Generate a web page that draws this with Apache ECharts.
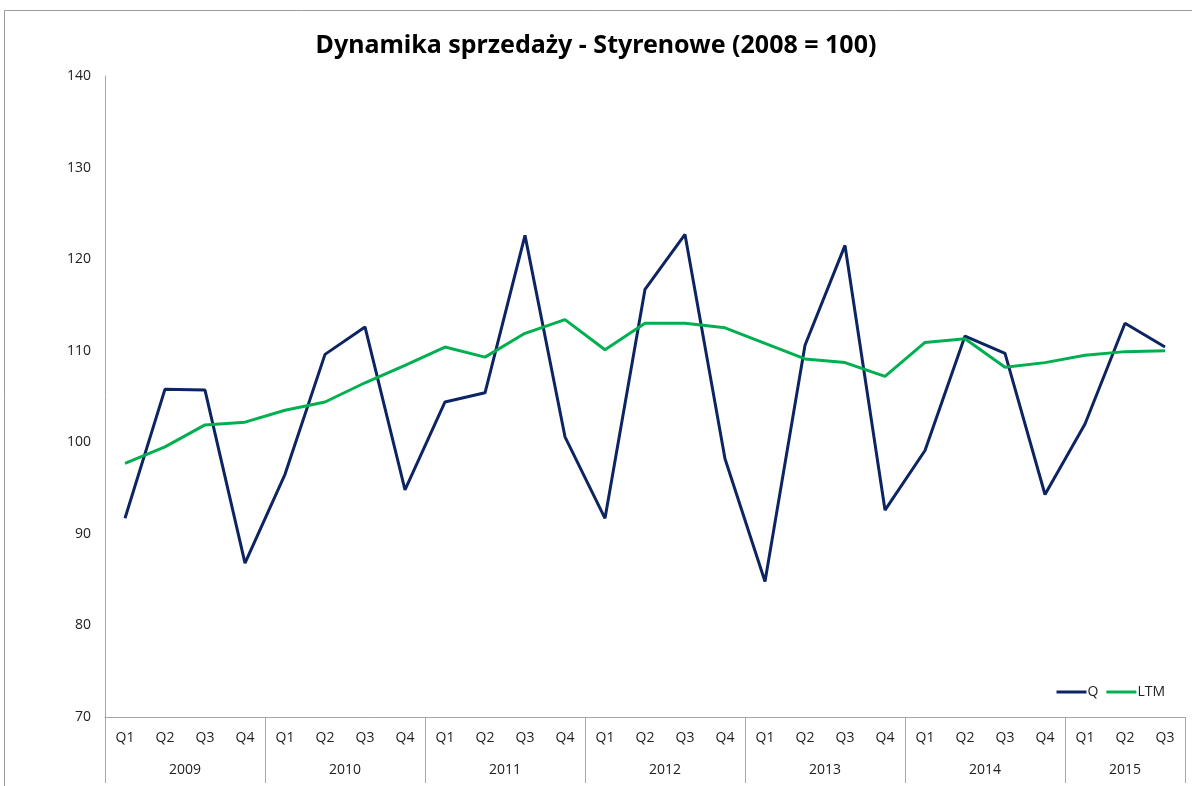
<!DOCTYPE html>
<html>
<head>
<meta charset="utf-8">
<title>Dynamika sprzedaży - Styrenowe</title>
<script src="https://cdn.jsdelivr.net/npm/echarts@6/dist/echarts.min.js"></script>
<style>
  html, body { margin: 0; padding: 0; background: #fff; }
  #chart { width: 1192px; height: 786px; }
</style>
</head>
<body>
<div id="chart"></div>
<script>
// quarters on the lower axis, years on the second row
const quarters = [
  "Q1", "Q2", "Q3", "Q4", "Q1", "Q2", "Q3", "Q4", "Q1", "Q2", "Q3", "Q4",
  "Q1", "Q2", "Q3", "Q4", "Q1", "Q2", "Q3", "Q4", "Q1", "Q2", "Q3", "Q4",
  "Q1", "Q2", "Q3",
];
const years = ["2009", "2010", "2011", "2012", "2013", "2014", "2015"];
const quartersPerYear = [4, 4, 4, 4, 4, 4, 3];

const qValues = [
  91.7, 105.8, 105.7, 86.8,
  96.5, 109.6, 112.6, 94.8,
  104.4, 105.4, 122.6, 100.6,
  91.7, 116.7, 122.7, 98.2,
  84.8, 110.6, 121.5, 92.6,
  99.1, 111.6, 109.7, 94.3,
  102.0, 113.0, 110.4,
];
const ltmValues = [
  97.7, 99.5, 101.9, 102.2,
  103.5, 104.4, 106.5, 108.4,
  110.4, 109.3, 111.9, 113.4,
  110.1, 113.0, 113.0, 112.5,
  110.8, 109.1, 108.7, 107.2,
  110.9, 111.3, 108.2, 108.7,
  109.5, 109.9, 110.0,
];
const yTicks = { min: 70, max: 140, step: 10 };

// year boundaries and centres, in quarter units
const yearEdges = [0];
quartersPerYear.forEach((n) => yearEdges.push(yearEdges[yearEdges.length - 1] + n));
const yearCenters = years.map((_, i) => (yearEdges[i] + yearEdges[i + 1]) / 2);

const font = "'Open Sans', 'Noto Sans', sans-serif";

const chart = echarts.init(document.getElementById("chart"));
chart.setOption({
  animation: false,
  title: {
    text: "Dynamika sprzedaży - Styrenowe (2008 = 100)",
    left: "center",
    top: 28,
    textStyle: {
      fontFamily: "'Noto Sans', sans-serif",
      fontWeight: "bold",
      fontSize: 25,
      color: "#000",
    },
  },
  graphic: [
    {
      type: "rect",
      shape: { x: 4.5, y: 10.5, width: 1400, height: 1000 },
      style: { fill: "none", stroke: "#9a9a9a", lineWidth: 1 },
      silent: true,
    },
  ],
  legend: {
    right: 22,
    top: 680,
    itemWidth: 30,
    itemHeight: 3,
    itemGap: 8,
    icon: "rect",
    textStyle: { fontFamily: font, fontSize: 14, color: "#222", padding: [0, 0, 0, -4] },
    data: ["Q", "LTM"],
  },
  grid: {
    left: 105,
    right: 7,
    top: 76,
    bottom: 69,
    containLabel: false,
  },
  xAxis: [
    {
      type: "category",
      data: quarters,
      boundaryGap: true,
      axisLine: { lineStyle: { color: "#a6a6a6", width: 1 } },
      axisTick: { show: false },
      axisLabel: {
        interval: 0,
        margin: 14,
        fontFamily: font,
        fontSize: 14,
        color: "#222",
      },
      splitLine: { show: false },
    },
    {
      type: "value",
      position: "bottom",
      min: 0,
      max: yearEdges[yearEdges.length - 1],
      axisLine: { show: false },
      axisTick: {
        show: true,
        customValues: yearEdges,
        length: 66,
        lineStyle: { color: "#a6a6a6", width: 1 },
      },
      axisLabel: {
        customValues: yearCenters,
        margin: 46,
        fontFamily: font,
        fontSize: 14,
        color: "#222",
        formatter: (v) => {
          const i = yearCenters.indexOf(v);
          return i >= 0 ? years[i] : "";
        },
      },
      splitLine: { show: false },
    },
  ],
  yAxis: {
    type: "value",
    min: yTicks.min,
    max: yTicks.max,
    interval: yTicks.step,
    axisLine: { show: true, lineStyle: { color: "#a6a6a6", width: 1 } },
    axisTick: { show: false },
    axisLabel: {
      margin: 14,
      fontFamily: font,
      fontSize: 14,
      color: "#222",
    },
    splitLine: { show: false },
  },
  series: [
    {
      name: "Q",
      type: "line",
      data: qValues,
      symbol: "none",
      color: "#0c2461",
      lineStyle: { width: 3, color: "#0c2461" },
    },
    {
      name: "LTM",
      type: "line",
      data: ltmValues,
      symbol: "none",
      color: "#00b050",
      lineStyle: { width: 3, color: "#00b050" },
    },
  ],
});
</script>
</body>
</html>
